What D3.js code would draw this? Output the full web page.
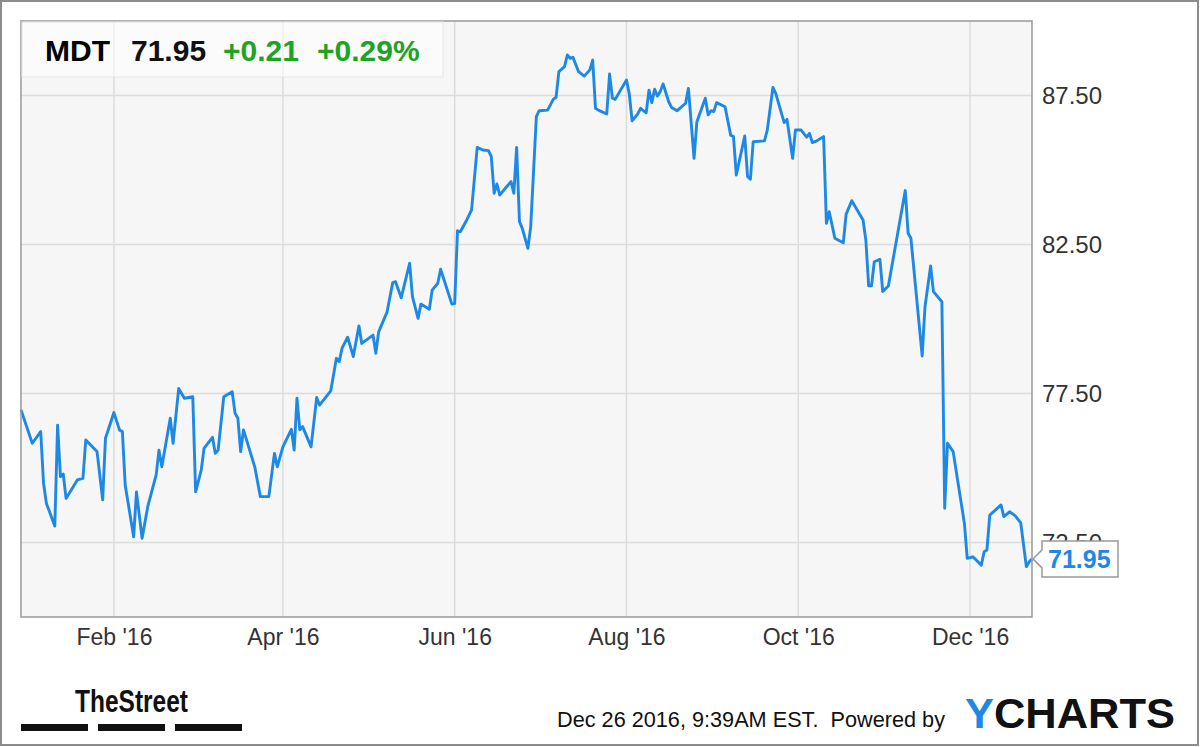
<!DOCTYPE html>
<html>
<head>
<meta charset="utf-8">
<script src="https://cdn.jsdelivr.net/npm/d3@7"></script>
<style>
  html, body { margin: 0; padding: 0; background: #fff; }
  svg { display: block; font-family: "Liberation Sans", Arial, sans-serif; }
  .axis text { fill: #333; }
</style>
</head>
<body>
<svg id="chart" width="1200" height="747"></svg>
<script>
/* MDT 1-year price chart (YCharts style) */

const TICKER = "MDT";
const LAST_PRICE = "71.95";
const CHANGE = "+0.21";
const CHANGE_PCT = "+0.29%";
const STAMP = "Dec 26 2016, 9:39AM EST.  Powered by";

const X_TICKS = ["2016-02-01", "2016-04-01", "2016-06-01", "2016-08-01", "2016-10-01", "2016-12-01"];
const Y_TICKS = [72.5, 77.5, 82.5, 87.5];

// closes
const dates = [
  "2015-12-30", "2016-01-03", "2016-01-06", "2016-01-07", "2016-01-08", "2016-01-11", "2016-01-12", "2016-01-13",
  "2016-01-14", "2016-01-15", "2016-01-19", "2016-01-21", "2016-01-22", "2016-01-26", "2016-01-28", "2016-01-29",
  "2016-02-01", "2016-02-03", "2016-02-04", "2016-02-05", "2016-02-08", "2016-02-09", "2016-02-11", "2016-02-13",
  "2016-02-16", "2016-02-17", "2016-02-18", "2016-02-21", "2016-02-22", "2016-02-24", "2016-02-26", "2016-02-29",
  "2016-03-01", "2016-03-03", "2016-03-04", "2016-03-07", "2016-03-08", "2016-03-09", "2016-03-11", "2016-03-14",
  "2016-03-15", "2016-03-16", "2016-03-17", "2016-03-18", "2016-03-22", "2016-03-24", "2016-03-27", "2016-03-29",
  "2016-03-30", "2016-04-01", "2016-04-04", "2016-04-05", "2016-04-06", "2016-04-07", "2016-04-08", "2016-04-11",
  "2016-04-13", "2016-04-14", "2016-04-18", "2016-04-20", "2016-04-21", "2016-04-22", "2016-04-24", "2016-04-26",
  "2016-04-28", "2016-04-29", "2016-05-03", "2016-05-04", "2016-05-05", "2016-05-08", "2016-05-10", "2016-05-11",
  "2016-05-13", "2016-05-16", "2016-05-17", "2016-05-19", "2016-05-20", "2016-05-23", "2016-05-24", "2016-05-26",
  "2016-05-27", "2016-05-31", "2016-06-01", "2016-06-02", "2016-06-03", "2016-06-05", "2016-06-07", "2016-06-09",
  "2016-06-11", "2016-06-13", "2016-06-14", "2016-06-15", "2016-06-16", "2016-06-17", "2016-06-20", "2016-06-21",
  "2016-06-22", "2016-06-23", "2016-06-24", "2016-06-25", "2016-06-27", "2016-06-28", "2016-06-30", "2016-07-01",
  "2016-07-04", "2016-07-06", "2016-07-07", "2016-07-08", "2016-07-10", "2016-07-11", "2016-07-12", "2016-07-13",
  "2016-07-15", "2016-07-17", "2016-07-19", "2016-07-20", "2016-07-21", "2016-07-22", "2016-07-25", "2016-07-26",
  "2016-07-27", "2016-07-28", "2016-08-01", "2016-08-02", "2016-08-03", "2016-08-05", "2016-08-06", "2016-08-08",
  "2016-08-09", "2016-08-10", "2016-08-11", "2016-08-12", "2016-08-13", "2016-08-14", "2016-08-16", "2016-08-17",
  "2016-08-19", "2016-08-22", "2016-08-23", "2016-08-25", "2016-08-26", "2016-08-29", "2016-08-30", "2016-08-31",
  "2016-09-01", "2016-09-02", "2016-09-05", "2016-09-07", "2016-09-08", "2016-09-09", "2016-09-12", "2016-09-13",
  "2016-09-14", "2016-09-15", "2016-09-19", "2016-09-20", "2016-09-22", "2016-09-23", "2016-09-26", "2016-09-27",
  "2016-09-29", "2016-09-30", "2016-10-02", "2016-10-04", "2016-10-05", "2016-10-06", "2016-10-07", "2016-10-10",
  "2016-10-11", "2016-10-12", "2016-10-14", "2016-10-17", "2016-10-18", "2016-10-20", "2016-10-24", "2016-10-25",
  "2016-10-26", "2016-10-27", "2016-10-28", "2016-10-30", "2016-10-31", "2016-11-02", "2016-11-08", "2016-11-09",
  "2016-11-10", "2016-11-14", "2016-11-15", "2016-11-17", "2016-11-18", "2016-11-21", "2016-11-22", "2016-11-23",
  "2016-11-25", "2016-11-29", "2016-11-30", "2016-12-02", "2016-12-05", "2016-12-06", "2016-12-07", "2016-12-08",
  "2016-12-12", "2016-12-13", "2016-12-15", "2016-12-17", "2016-12-19", "2016-12-21", "2016-12-22", "2016-12-23"
];

const prices = [
  76.95, 75.83, 76.22, 74.49, 73.82, 73.05, 76.44, 74.71,
  74.80, 73.98, 74.60, 74.65, 75.94, 75.55, 73.93, 76.00,
  76.86, 76.27, 76.22, 74.43, 72.69, 74.20, 72.64, 73.70,
  74.77, 75.60, 75.04, 76.67, 75.83, 77.67, 77.34, 77.39,
  74.20, 74.93, 75.66, 76.03, 75.49, 75.60, 77.39, 77.56,
  76.84, 76.67, 75.55, 76.28, 75.04, 74.04, 74.04, 75.49,
  75.04, 75.71, 76.30, 75.60, 77.34, 76.28, 76.39, 75.71,
  77.37, 77.11, 77.59, 78.68, 78.57, 79.02, 79.39, 78.74,
  79.77, 79.18, 79.46, 78.85, 79.57, 80.24, 81.22, 81.25,
  80.71, 81.87, 80.75, 80.02, 80.50, 80.33, 80.97, 81.20,
  81.67, 80.50, 80.52, 82.96, 82.93, 83.27, 83.66, 85.76,
  85.67, 85.65, 85.45, 84.22, 84.53, 84.16, 84.50, 84.61,
  84.22, 85.76, 83.27, 83.04, 82.37, 83.10, 86.79, 86.99,
  87.01, 87.37, 87.44, 88.30, 88.47, 88.86, 88.75, 88.78,
  88.30, 88.15, 88.36, 88.69, 87.07, 87.01, 86.88, 88.22,
  87.41, 87.37, 88.02, 87.55, 86.65, 86.88, 87.07, 86.92,
  87.68, 87.26, 87.71, 87.48, 87.63, 87.89, 87.29, 87.10,
  86.99, 87.24, 87.74, 85.39, 86.62, 87.41, 86.85, 86.99,
  86.96, 87.26, 87.12, 86.17, 86.12, 84.83, 86.14, 84.78,
  84.69, 85.95, 85.98, 86.34, 87.77, 87.57, 86.59, 86.70,
  85.39, 86.34, 86.34, 86.10, 86.23, 85.92, 85.95, 86.12,
  83.21, 83.60, 82.71, 82.56, 83.52, 83.97, 83.32, 82.65,
  81.11, 81.11, 81.92, 82.00, 80.92, 81.11, 84.31, 82.88,
  82.71, 78.76, 80.41, 81.78, 80.92, 80.58, 73.65, 75.83,
  75.55, 73.14, 71.97, 72.02, 71.74, 72.19, 72.25, 73.42,
  73.76, 73.37, 73.53, 73.40, 73.16, 71.69, 71.85, 71.95
];

const LINE_BLUE = "#1e88e5";
const GREEN = "#22a222";

const W = 1200, H = 747;
const plot = { left: 21, top: 21, right: 1032, bottom: 617 };

const parse = d3.timeParse("%Y-%m-%d");
const data = dates.map((d, i) => ({ date: parse(d), value: prices[i] }));

const svg = d3.select("#chart");

// outer frame
svg.append("rect")
  .attr("x", 1).attr("y", 1).attr("width", W - 3).attr("height", H - 3)
  .attr("fill", "#fff").attr("stroke", "#8c8c8c").attr("stroke-width", 2);

const x = d3.scaleTime()
  .domain([parse("2015-12-30"), parse("2016-12-23")])
  .range([plot.left, plot.right]);
const y = d3.scaleLinear().domain([70, 90]).range([plot.bottom, plot.top]);

// plot background
svg.append("rect")
  .attr("x", plot.left).attr("y", plot.top)
  .attr("width", plot.right - plot.left).attr("height", plot.bottom - plot.top)
  .attr("fill", "#f6f6f6");

// grid
const grid = svg.append("g").attr("stroke", "#dcdcdc").attr("stroke-width", 1.5);
grid.selectAll("line.h").data(Y_TICKS).join("line")
  .attr("class", "h")
  .attr("x1", plot.left).attr("x2", plot.right)
  .attr("y1", d => y(d)).attr("y2", d => y(d));
grid.selectAll("line.v").data(X_TICKS.map(parse)).join("line")
  .attr("class", "v")
  .attr("y1", plot.top).attr("y2", plot.bottom)
  .attr("x1", d => x(d)).attr("x2", d => x(d));

// price line
const line = d3.line().x(d => x(d.date)).y(d => y(d.value));
svg.append("path")
  .datum(data)
  .attr("d", line)
  .attr("fill", "none")
  .attr("stroke", LINE_BLUE)
  .attr("stroke-width", 2.9)
  .attr("stroke-linejoin", "round");

// plot border
svg.append("rect")
  .attr("x", plot.left).attr("y", plot.top)
  .attr("width", plot.right - plot.left).attr("height", plot.bottom - plot.top)
  .attr("fill", "none").attr("stroke", "#999").attr("stroke-width", 1.5);

// axes (labels only)
const xAxis = d3.axisBottom(x)
  .tickValues(X_TICKS.map(parse))
  .tickFormat(d3.timeFormat("%b '%y"))
  .tickSize(0).tickPadding(12);
svg.append("g").attr("class", "axis")
  .attr("transform", `translate(0,${plot.bottom})`)
  .call(xAxis)
  .call(g => g.select(".domain").remove())
  .selectAll("text").attr("font-size", 23).attr("font-family", null);

const yAxis = d3.axisRight(y)
  .tickValues(Y_TICKS)
  .tickFormat(d3.format(".2f"))
  .tickSize(0).tickPadding(10);
svg.append("g").attr("class", "axis")
  .attr("transform", `translate(${plot.right},0)`)
  .call(yAxis)
  .call(g => g.select(".domain").remove())
  .selectAll("text").attr("font-size", 24).attr("font-family", null);

// header quote box
svg.append("rect")
  .attr("x", plot.left + 1).attr("y", plot.top + 1).attr("width", 421).attr("height", 55)
  .attr("fill", "#fff").attr("fill-opacity", 0.55)
  .attr("stroke", "#e6e6e6").attr("stroke-width", 1);
const head = svg.append("g").attr("font-size", 30).attr("font-weight", "bold");
head.append("text").attr("x", 45).attr("y", 61).attr("fill", "#000").text(TICKER);
head.append("text").attr("x", 131).attr("y", 61).attr("fill", "#111").text(LAST_PRICE);
head.append("text").attr("x", 223).attr("y", 61).attr("fill", GREEN).text(CHANGE);
head.append("text").attr("x", 317).attr("y", 61).attr("fill", GREEN).text(CHANGE_PCT);

// last price callout (covers part of the 72.50 label, as in the original)
const last = data[data.length - 1];
const ly = y(last.value);
const bx = plot.right + 10, bw = 76;
svg.append("path")
  .attr("d", `M${bx},${ly - 18} H${bx + bw} V${ly + 18} H${bx} V${ly + 9} L${x(last.date) + 1},${ly} L${bx},${ly - 9} Z`)
  .attr("fill", "#fff").attr("stroke", "#999").attr("stroke-width", 1.5);
svg.append("text")
  .attr("x", bx + 6).attr("y", ly + 9)
  .attr("font-size", 25).attr("font-weight", "bold").attr("fill", LINE_BLUE)
  .text(LAST_PRICE);

// footer: TheStreet logo
svg.append("text")
  .attr("x", 75).attr("y", 712)
  .attr("font-size", 32).attr("font-weight", "bold").attr("fill", "#111")
  .attr("textLength", 113).attr("lengthAdjust", "spacingAndGlyphs")
  .text("TheStreet");
svg.selectAll("rect.bar").data([21, 98, 175]).join("rect")
  .attr("class", "bar")
  .attr("x", d => d).attr("y", 724).attr("width", 67).attr("height", 7)
  .attr("fill", "#111");

// footer: timestamp + YCharts
svg.append("text")
  .attr("x", 557).attr("y", 727)
  .attr("font-size", 21.5).attr("fill", "#111")
  .attr("textLength", 388).attr("lengthAdjust", "spacingAndGlyphs")
  .style("white-space", "pre")
  .text(STAMP);
const yc = svg.append("text")
  .attr("x", 965).attr("y", 728)
  .attr("font-size", 43).attr("font-weight", "bold")
  .attr("textLength", 210).attr("lengthAdjust", "spacingAndGlyphs");
yc.append("tspan").attr("fill", LINE_BLUE).text("Y");
yc.append("tspan").attr("fill", "#111").text("CHARTS");
</script>
</body>
</html>
